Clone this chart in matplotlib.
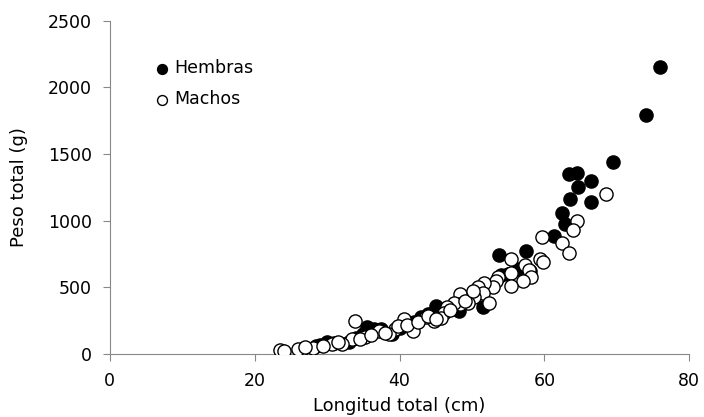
import matplotlib.pyplot as plt

# Hembras (filled)
hem_x = [76, 74, 69.5, 66.5, 66.5, 64.5, 63.4, 64.6, 63.5, 62.4, 62.8, 61.3,
         57.4, 53.8, 56.3, 55, 51.5, 48.2, 45, 44, 42, 41.3, 39, 37.5, 35.5,
         35, 34, 33, 31, 29, 28.5, 30, 36.5, 40, 43, 46, 49, 50, 52, 54, 58]
hem_y = [2150, 1790, 1440, 1300, 1140, 1360, 1350, 1250, 1165, 1060, 975, 885,
         775, 745, 640, 600, 355, 325, 360, 300, 240, 225, 150, 190, 200,
         150, 120, 90, 80, 70, 60, 90, 185, 195, 280, 330, 400, 450, 500, 590, 620]

# Machos (open)
mac_x = [68.5, 64.5, 64, 62.5, 63.4, 59.7, 59.4, 59.8, 57.3, 57.9, 58.1, 57,
         55.4, 55.4, 55.4, 53.6, 53.3, 52.9, 51.7, 50.8, 51.5, 52.3, 50.3, 49.4,
         48.4, 48.4, 47.5, 46.6, 46.1, 45.7, 44.7, 43.6, 41.8, 40.6, 39.4, 38.5,
         37.1, 35.3, 33.8, 33.5, 32.1, 30.7, 26.5, 28.1, 23.8, 23.5, 24, 26, 27,
         29.5, 31.5, 34.5, 36, 38, 39.8, 41, 42.5, 44, 45, 47, 49, 50.2]
mac_y = [1200, 995, 930, 830, 760, 880, 715, 690, 665, 630, 575, 550,
         715, 605, 510, 575, 550, 500, 530, 500, 460, 385, 425, 385,
         450, 375, 385, 350, 310, 270, 250, 275, 175, 265, 190, 150,
         175, 125, 250, 110, 75, 75, 40, 45, 23, 30, 25, 35, 50,
         60, 90, 110, 145, 160, 210, 215, 240, 285, 260, 330, 400, 470]

x_ticks = [0, 20, 40, 60, 80]
y_ticks = [0, 500, 1000, 1500, 2000, 2500]

fig = plt.figure(figsize=(7.04, 4.17), dpi=100)
ax = fig.add_axes([0.156, 0.151, 0.823, 0.799])

ax.scatter(hem_x, hem_y, s=90, c="black", edgecolors="black", linewidths=1,
           label="Hembras", zorder=2)
ax.scatter(mac_x, mac_y, s=90, c="white", edgecolors="black", linewidths=1,
           label="Machos", zorder=3)

ax.set_xlim(0, 80)
ax.set_ylim(0, 2500)
ax.set_xticks(x_ticks)
ax.set_yticks(y_ticks)
ax.tick_params(labelsize=12.5, color="#888888", length=5, direction="out", pad=8)

for side in ["top", "right"]:
    ax.spines[side].set_visible(False)
for side in ["left", "bottom"]:
    ax.spines[side].set_color("#888888")

ax.set_xlabel("Longitud total (cm)", fontsize=13, labelpad=5)
ax.set_ylabel("Peso total (g)", fontsize=13, labelpad=14)

ax.legend(loc="upper left", bbox_to_anchor=(0.06, 0.905), frameon=False,
          fontsize=12.5, markerscale=0.75, handlelength=1.2, handletextpad=0.1,
          labelspacing=0.75, borderaxespad=0)

fig.savefig("out.png", dpi=100)
